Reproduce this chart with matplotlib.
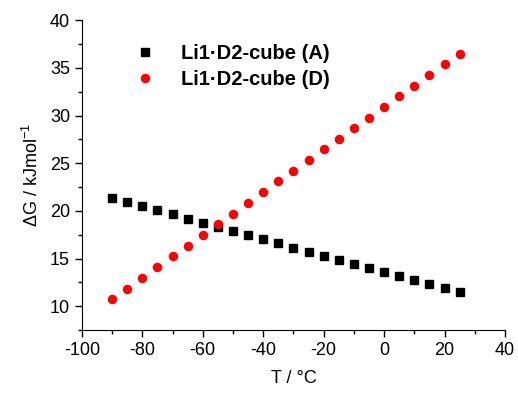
import matplotlib
matplotlib.use("Agg")
import matplotlib.pyplot as plt
from matplotlib.ticker import MultipleLocator

plt.rcParams["font.family"] = ["Liberation Sans", "DejaVu Sans"]
plt.rcParams["mathtext.fontset"] = "custom"
plt.rcParams["mathtext.rm"] = "Liberation Sans"
plt.rcParams["mathtext.it"] = "Liberation Sans:italic"
plt.rcParams["axes.unicode_minus"] = False

temperature = [-90, -85, -80, -75, -70, -65, -60, -55, -50, -45, -40, -35,
               -30, -25, -20, -15, -10, -5, 0, 5, 10, 15, 20, 25]
dg_a = [21.40, 20.94, 20.52, 20.06, 19.64, 19.19, 18.77, 18.31, 17.89, 17.47,
        17.02, 16.60, 16.15, 15.73, 15.31, 14.89, 14.47, 14.01, 13.63, 13.17,
        12.75, 12.33, 11.91, 11.49]
dg_d = [10.72, 11.84, 13.00, 14.12, 15.24, 16.36, 17.47, 18.59, 19.71, 20.87,
        21.98, 23.10, 24.23, 25.34, 26.46, 27.58, 28.67, 29.79, 30.90, 32.03,
        33.10, 34.23, 35.35, 36.46]
labels = ["Li1\u00b7D2-cube (A)", "Li1\u00b7D2-cube (D)"]

fig = plt.figure(figsize=(5.18, 3.94), dpi=100)
ax = fig.add_axes([0.158, 0.162, 0.817, 0.787])

ax.plot(temperature, dg_a, linestyle="none", marker="s", markersize=5.2,
        color="black", label=labels[0])
ax.plot(temperature, dg_d, linestyle="none", marker="o", markersize=5.8,
        color="#ff0000", label=labels[1])

ax.set_xlim(-100, 40)
ax.set_ylim(7.5, 40)
ax.xaxis.set_major_locator(MultipleLocator(20))
ax.xaxis.set_minor_locator(MultipleLocator(10))
ax.yaxis.set_major_locator(MultipleLocator(5))
ax.yaxis.set_minor_locator(MultipleLocator(2.5))

for side in ("top", "right"):
    ax.spines[side].set_visible(False)
ax.tick_params(which="major", direction="out", length=5, width=1, labelsize=13)
ax.tick_params(which="minor", direction="out", length=3, width=1)

ax.set_xlabel("T / \u00b0C", fontsize=13, labelpad=8)
ax.set_ylabel(r"$\Delta$G / kJmol$^{\mathregular{-1}}$", fontsize=13, labelpad=6)

ax.legend(loc="upper left", bbox_to_anchor=(0.082, 0.982), frameon=False,
          prop={"weight": "bold", "size": 14.5}, handletextpad=1.3,
          labelspacing=0.35, handlelength=1.0)

fig.savefig("out.png", dpi=100)
